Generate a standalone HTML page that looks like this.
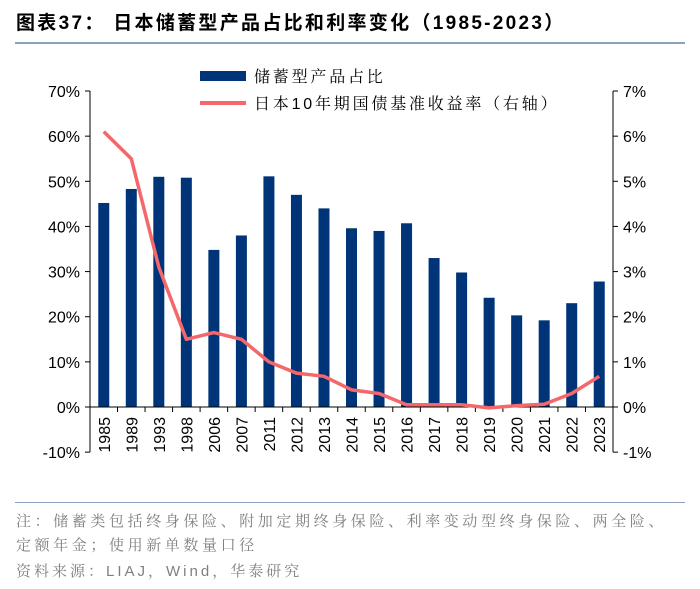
<!DOCTYPE html>
<html><head><meta charset="utf-8"><style>
body{margin:0;background:#fff;font-family:"Liberation Sans","Noto Sans CJK SC",sans-serif;}
#wrap{position:relative;width:700px;height:589px;overflow:hidden}
.t{position:absolute;white-space:nowrap}
</style></head><body>
<div id="wrap">
<div class="t" style="left:16px;top:8px;font-size:19px;font-weight:bold;color:#000;letter-spacing:2.3px">图表37：&nbsp;日本储蓄型产品占比和利率变化（1985-2023）</div>
<div style="position:absolute;left:15px;top:42px;width:670px;height:2px;background:#8aa2c0"></div>
<svg id="svg" width="700" height="589" style="position:absolute;left:0;top:0"></svg>
<div style="position:absolute;left:15px;top:502px;width:670px;height:1px;background:#8aa2c0"></div>
<div class="t" style="left:16px;top:510px;font-size:15px;color:#7f7f7f;line-height:24px;letter-spacing:3.6px;font-family:'Liberation Sans','Noto Serif CJK SC',serif">注：储蓄类包括终身保险、附加定期终身保险、利率变动型终身保险、两全险、<br>定额年金；使用新单数量口径</div>
<div class="t" style="left:16px;top:560px;font-size:15px;color:#7f7f7f;letter-spacing:3px;font-family:'Liberation Sans','Noto Serif CJK SC',serif">资料来源：LIAJ，Wind，华泰研究</div>
</div>
<script>
const categories=["1985","1989","1993","1998","2006","2007","2011","2012","2013","2014","2015","2016","2017","2018","2019","2020","2021","2022","2023"];
const savingsShare=[45.2,48.3,51,50.8,34.8,38,51.1,47,44,39.6,39,40.7,33,29.8,24.2,20.3,19.2,23,27.8];
const bondYield=[6.1,5.5,3.1,1.5,1.65,1.5,1.0,0.75,0.68,0.38,0.3,0.05,0.05,0.05,-0.02,0.03,0.06,0.3,0.68];
const leftTicks=[-10,0,10,20,30,40,50,60,70];
const rightTicks=[-1,0,1,2,3,4,5,6,7];
const NS="http://www.w3.org/2000/svg";
const svg=document.getElementById('svg');
const X0=90,X1=613,Y0=407,PX=4.514;
const yL=v=>Y0-v*PX, yR=v=>Y0-v*10*PX;
const cw=(X1-X0)/categories.length;
const xc=i=>X0+cw*(i+0.5);
function mk(tag,a){const e=document.createElementNS(NS,tag);for(const k in a)e.setAttribute(k,a[k]);svg.appendChild(e);return e;}
let e=mk('line',{x1:X0,x2:X0,y1:yL(70),y2:yL(-10),stroke:'#000'});

e=mk('line',{x1:X1,x2:X1,y1:yL(70),y2:yL(-10),stroke:'#000'});

leftTicks.forEach(v=>{
 mk('line',{x1:X0-5,x2:X0,y1:yL(v),y2:yL(v),stroke:'#000'});
 const t=mk('text',{x:X0-10,y:yL(v)+6,'text-anchor':'end','font-size':16,'font-family':'Liberation Sans'});t.textContent=v+'%';
 
});
rightTicks.forEach(v=>{
 mk('line',{x1:X1,x2:X1+5,y1:yR(v),y2:yR(v),stroke:'#000'});
 const t=mk('text',{x:X1+10,y:yR(v)+6,'font-size':16,'font-family':'Liberation Sans'});t.textContent=v+'%';
 
});
savingsShare.forEach((v,i)=>{
 const b=mk('rect',{x:xc(i)-5.5,y:Math.min(yL(v),Y0),width:11,height:Math.abs(yL(v)-Y0),fill:'#003478'});
 
});
e=mk('line',{x1:X0,x2:X1,y1:Y0,y2:Y0,stroke:'#000'});

for(let i=0;i<=categories.length;i++)mk('line',{x1:X0+cw*i,x2:X0+cw*i,y1:Y0,y2:Y0+5,stroke:'#000'});
categories.forEach((c,i)=>{
 const t=mk('text',{x:0,y:0,'font-size':16,'font-family':'Liberation Sans','text-anchor':'end',transform:`translate(${xc(i)+6},${Y0+10}) rotate(-90)`});t.textContent=c;
 
});
const p=mk('polyline',{points:bondYield.map((v,i)=>xc(i)+','+yR(v)).join(' '),fill:'none',stroke:'#f4676b','stroke-width':3.5,'stroke-linejoin':'round'});

e=mk('rect',{x:200,y:71,width:46,height:10,fill:'#003478'});

let t=mk('text',{x:254,y:82,'font-size':16,'letter-spacing':'2.8','font-family':'Liberation Sans, Noto Serif CJK SC, serif'});t.textContent='储蓄型产品占比';

e=mk('line',{x1:200,x2:246,y1:103,y2:103,stroke:'#f4676b','stroke-width':4});

t=mk('text',{x:254,y:109,'font-size':16,'letter-spacing':'2.8','font-family':'Liberation Sans, Noto Serif CJK SC, serif'});t.textContent='日本10年期国债基准收益率（右轴）';

</script>
</body></html>
